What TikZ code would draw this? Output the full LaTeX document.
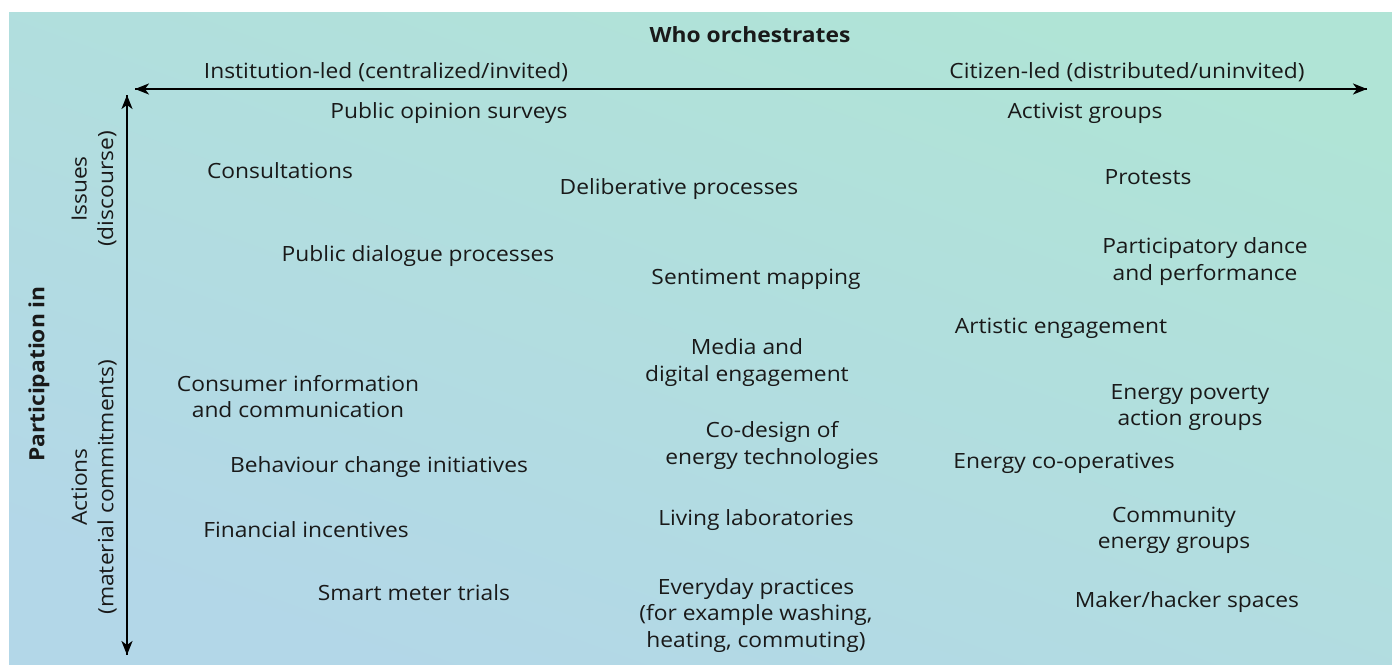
\documentclass[tikz,border=0pt]{standalone}
\usepackage{fontspec}
\setmainfont{Open Sans}[FakeStretch=1.085]
\usetikzlibrary{arrows.meta}
\definecolor{bgtop}{HTML}{B0E4D6}
\definecolor{bgbot}{HTML}{B3D7E8}
\begin{document}
\begin{tikzpicture}[x=1pt,y=-1pt,
  vlbl/.style={font=\fontsize{21}{26.5}\selectfont, align=center, inner sep=0pt, text=black!90, rotate=90},
  vbld/.style={vlbl, font=\fontsize{21}{26.5}\selectfont\bfseries},
  lbl/.style={font=\fontsize{21}{26.5}\selectfont, align=center, inner sep=0pt, text=black!90, yshift=-2.5pt},
  bld/.style={lbl, font=\fontsize{21}{26.5}\selectfont\bfseries},
  axisarrow/.style={line width=2pt, -{Stealth[length=14pt,width=11pt,inset=4pt]}}]
\useasboundingbox (0,0) rectangle (1392,664);
\shade[top color=bgtop, bottom color=bgbot, shading angle=-20] (9,12) rectangle (1392,664);
\coordinate (hl) at (135,89);
\coordinate (hr) at (1367,89);
\coordinate (vt) at (127,95);
\coordinate (vb) at (127,655);
\draw[axisarrow] (hr) -- (hl);
\draw[axisarrow] (hl) -- (hr);
\draw[axisarrow] (vb) -- (vt);
\draw[axisarrow] (vt) -- (vb);
\node[bld] (who) at (750,32) {Who orchestrates};
\node[lbl] (inst) at (386,70) {Institution-led (centralized/invited)};
\node[lbl] (citz) at (1127,70) {Citizen-led (distributed/uninvited)};
\node[vbld] (part) at (39,374) {Participation in};
\node[vlbl] (issues) at (94,189) {Issues\\(discourse)};
\node[vlbl] (actions) at (94,487) {Actions\\(material commitments)};
\node[lbl] (n1) at (449,111) {Public opinion surveys};
\node[lbl] (n2) at (1085,111) {Activist groups};
\node[lbl] (n3) at (280,168) {Consultations};
\node[lbl] (n4) at (679,187) {Deliberative processes};
\node[lbl] (n5) at (1148,175) {Protests};
\node[lbl] (n6) at (418,254) {Public dialogue processes};
\node[lbl] (n7) at (756,277) {Sentiment mapping};
\node[lbl] (n8) at (1205,259) {Participatory dance\\and performance};
\node[lbl] (n9) at (1061,326) {Artistic engagement};
\node[lbl] (n10) at (747,360) {Media and\\digital engagement};
\node[lbl] (n11) at (298,394) {Consumer information\\and communication};
\node[lbl] (n12) at (1190,405) {Energy poverty\\action groups};
\node[lbl] (n13) at (772,443) {Co-design of\\energy technologies};
\node[lbl] (n14) at (379,465) {Behaviour change initiatives};
\node[lbl] (n15) at (1064,461) {Energy co-operatives};
\node[lbl] (n16) at (306,527) {Financial incentives};
\node[lbl] (n17) at (756,518) {Living laboratories};
\node[lbl] (n18) at (1174,528) {Community\\energy groups};
\node[lbl] (n19) at (414,590) {Smart meter trials};
\node[lbl] (n20) at (756,613) {Everyday practices\\(for example washing,\\heating, commuting)};
\node[lbl] (n21) at (1187,600) {Maker/hacker spaces};
\end{tikzpicture}
\end{document}
